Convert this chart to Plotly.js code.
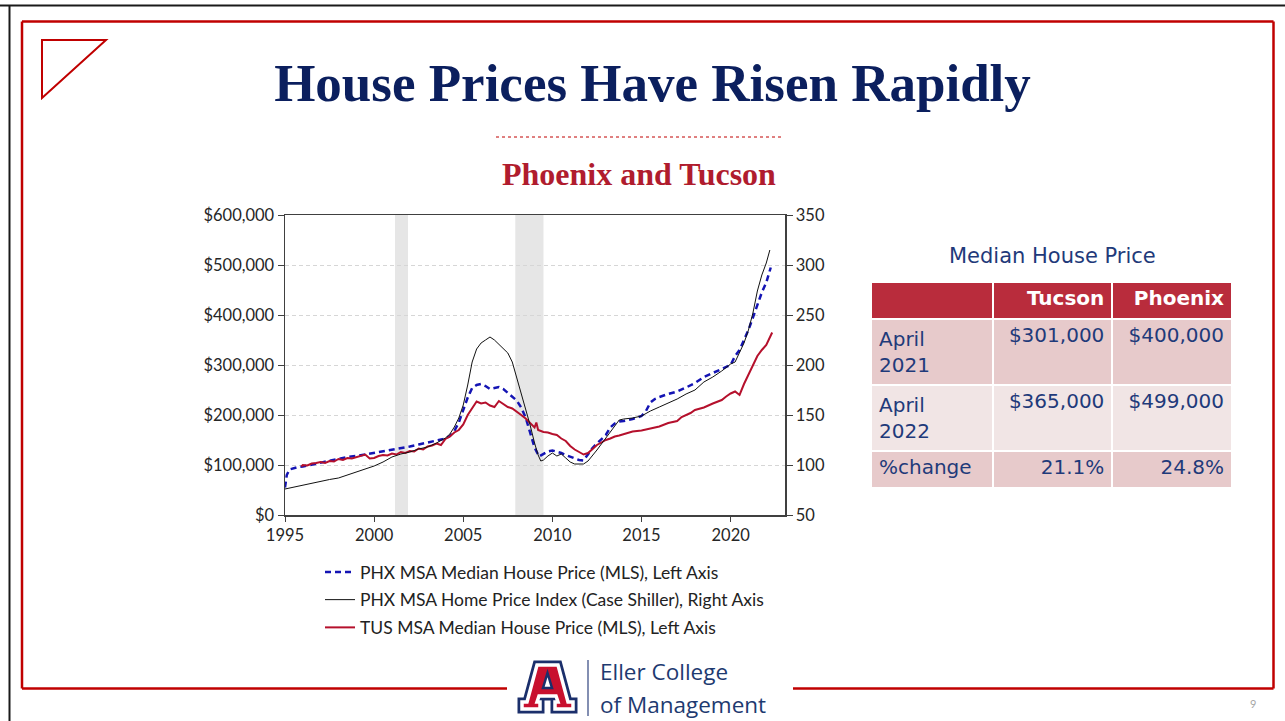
<!DOCTYPE html>
<html>
<head>
<meta charset="utf-8">
<script src="https://cdn.plot.ly/plotly-3.0.1.min.js"></script>
<style>
  html, body { margin: 0; padding: 0; background: #ffffff; }
  #chart { width: 1285px; height: 721px; }
</style>
</head>
<body>
<div id="chart"></div>
<script>
// ---------------- DATA ----------------
// PHX MSA Median House Price (MLS), left axis ($)
const phxMedianYears = [1995.0,1995.1,1995.25,1995.5,1995.75,1996.0,1996.5,1997.0,1997.5,1998.0,1998.5,1999.0,1999.5,2000.0,2000.5,2001.0,2001.5,2002.0,2002.5,2003.0,2003.5,2004.0,2004.25,2004.5,2004.75,2005.0,2005.25,2005.5,2005.75,2006.0,2006.25,2006.5,2006.75,2007.0,2007.25,2007.5,2007.75,2008.0,2008.25,2008.5,2008.75,2009.0,2009.25,2009.5,2009.75,2010.0,2010.25,2010.5,2010.75,2011.0,2011.25,2011.5,2011.75,2012.0,2012.25,2012.5,2012.75,2013.0,2013.25,2013.5,2013.75,2014.0,2014.5,2015.0,2015.25,2015.5,2015.75,2016.0,2016.5,2017.0,2017.5,2018.0,2018.5,2019.0,2019.5,2020.0,2020.25,2020.5,2020.75,2021.0,2021.25,2021.5,2021.75,2022.0,2022.25];
const phxMedianVals = [55000,80000,91000,94000,96000,97000,101000,105000,109000,113000,116000,118000,121000,124000,127000,130000,133000,137000,141000,145000,149000,153000,158000,168000,185000,210000,235000,254000,260000,262000,258000,252000,254000,256000,252000,244000,236000,229000,215000,195000,165000,135000,117000,122000,127000,129000,127000,124000,120000,117000,113000,110000,109000,122000,134000,143000,151000,160000,175000,183000,187000,188000,192000,198000,208000,225000,232000,236000,242000,247000,255000,264000,276000,284000,291000,300000,318000,330000,350000,370000,395000,420000,445000,465000,495000];

// PHX MSA Home Price Index (Case Shiller), right axis
const phxIndexYears = [1995.0,1995.5,1996.0,1996.5,1997.0,1997.5,1998.0,1998.5,1999.0,1999.5,2000.0,2000.5,2001.0,2001.5,2002.0,2002.5,2003.0,2003.5,2004.0,2004.25,2004.5,2004.75,2005.0,2005.25,2005.5,2005.75,2006.0,2006.25,2006.5,2006.75,2007.0,2007.25,2007.5,2007.75,2008.0,2008.25,2008.5,2008.75,2009.0,2009.2,2009.35,2009.5,2009.75,2010.0,2010.25,2010.5,2010.75,2011.0,2011.25,2011.5,2011.75,2012.0,2012.25,2012.5,2012.75,2013.0,2013.25,2013.5,2013.75,2014.0,2014.5,2015.0,2015.5,2016.0,2016.5,2017.0,2017.5,2018.0,2018.5,2019.0,2019.5,2020.0,2020.25,2020.5,2020.75,2021.0,2021.25,2021.5,2021.75,2022.0,2022.2];
const phxIndexVals = [76,78,80,82,84,85.5,87,90,93,96,99,103,108,111,113,116,118,122,127,131,138,147,160,180,203,216,222,225,228,225,221,217,212,203,187,171,157,140,122,110,104,105,109,112,109,111,107,103,101,101,101,104,109,115,121,127,134,140,145,146,147,149,154,158,162,166,171,175,183,188,194,201,203,212,222,235,252,274,290,302,315];

// TUS MSA Median House Price (MLS), left axis ($)
const tusYears = [1995.92,1996.0,1996.25,1996.5,1996.75,1997.0,1997.25,1997.5,1997.75,1998.0,1998.25,1998.5,1998.75,1999.0,1999.25,1999.5,1999.75,2000.0,2000.25,2000.5,2000.75,2001.0,2001.25,2001.5,2001.75,2002.0,2002.25,2002.5,2002.75,2003.0,2003.25,2003.5,2003.75,2004.0,2004.25,2004.5,2004.75,2005.0,2005.25,2005.5,2005.75,2006.0,2006.25,2006.5,2006.75,2007.0,2007.25,2007.5,2007.75,2008.0,2008.25,2008.5,2008.75,2009.0,2009.1,2009.2,2009.5,2009.75,2010.0,2010.25,2010.5,2010.75,2011.0,2011.25,2011.5,2011.75,2012.0,2012.25,2012.5,2012.75,2013.0,2013.25,2013.5,2013.75,2014.0,2014.5,2015.0,2015.5,2016.0,2016.5,2017.0,2017.25,2017.5,2017.75,2018.0,2018.5,2019.0,2019.5,2019.75,2020.0,2020.25,2020.5,2020.75,2021.0,2021.25,2021.5,2021.75,2022.0,2022.33];
const tusVals = [97000,100000,99000,103000,104000,106000,104000,108000,107000,112000,110000,114000,113000,116000,118000,121000,113000,114000,118000,120000,119000,123000,121000,126000,124000,128000,127000,133000,131000,137000,139000,143000,140000,152000,157000,165000,170000,181000,200000,214000,227000,223000,225000,219000,216000,228000,222000,216000,213000,207000,200000,193000,183000,175000,185000,170000,166000,165000,162000,160000,153000,148000,138000,131000,126000,121000,124000,133000,140000,145000,150000,153000,157000,159000,162000,167000,169000,173000,177000,184000,188000,196000,200000,204000,210000,215000,223000,230000,237000,243000,247000,240000,262000,280000,300000,318000,330000,340000,365000];

// Recession periods (years)
const recessionStarts = [2001.17, 2007.92];
const recessionEnds   = [2001.9, 2009.5];

// Axis ticks
const xTickVals = [1995, 2000, 2005, 2010, 2015, 2020];

// Table
const tableHeader = ['', 'Tucson', 'Phoenix'];
const rowLabels   = ['April<br>2021', 'April<br>2022', '%change'];
const tucsonVals  = ['$301,000', '$365,000', '21.1%'];
const phoenixVals = ['$400,000', '$499,000', '24.8%'];

// ---------------- LAYOUT HELPERS ----------------
const W = 1285, H = 721;
const fx = x => x / W;
const fy = y => 1 - y / H;
const pathOf = pts => 'M ' + pts.map(p => fx(p[0]).toFixed(5) + ' ' + fy(p[1]).toFixed(5)).join(' L ') + ' Z';

const RED = '#c00000';
const NAVY = '#1b2f6b';

const traces = [
  {
    x: phxMedianYears, y: phxMedianVals, type: 'scatter', mode: 'lines',
    name: 'PHX MSA Median House Price (MLS), Left Axis',
    line: { color: '#1414b4', width: 2.5, dash: '6px,4px' },
    yaxis: 'y', legendgroup: 'g1'
  },
  {
    x: phxIndexYears, y: phxIndexVals, type: 'scatter', mode: 'lines',
    name: 'PHX MSA Home Price Index (Case Shiller), Right Axis',
    line: { color: '#111111', width: 1 },
    yaxis: 'y2', legendgroup: 'g2'
  },
  {
    x: tusYears, y: tusVals, type: 'scatter', mode: 'lines',
    name: 'TUS MSA Median House Price (MLS), Left Axis',
    line: { color: '#b5102c', width: 2 },
    yaxis: 'y', legendgroup: 'g3'
  },
  {
    type: 'table',
    domain: { x: [fx(871), fx(1232)], y: [fy(510), fy(282)] },
    columnwidth: [121, 119, 119],
    header: {
      values: tableHeader,
      align: ['left', 'right', 'right'],
      height: 37,
      fill: { color: '#b92c3c' },
      line: { color: '#ffffff', width: 2 },
      font: { family: 'DejaVu Sans', size: 20, color: '#ffffff', weight: 'bold' }
    },
    cells: {
      values: [rowLabels, tucsonVals, phoenixVals],
      align: ['left', 'right', 'right'],
      height: 37,
      fill: { color: [['#e7cacb', '#f1e5e5', '#e7cacb'], ['#e7cacb', '#f1e5e5', '#e7cacb'], ['#e7cacb', '#f1e5e5', '#e7cacb']] },
      line: { color: '#ffffff', width: 2 },
      font: { family: 'DejaVu Sans', size: 20, color: '#1f3a7a' }
    }
  }
];

const shapes = [];
// slide frames
shapes.push({ type: 'line', xref: 'paper', yref: 'paper', x0: 0, x1: 1, y0: fy(5.5), y1: fy(5.5), line: { color: '#1a1a1a', width: 2 } });
shapes.push({ type: 'line', xref: 'paper', yref: 'paper', x0: fx(9.5), x1: fx(9.5), y0: fy(5), y1: 0, line: { color: '#1a1a1a', width: 2 } });
const redFrame = [
  [22, 21.5, 1273.5, 21.5], [22, 21.5, 22, 688.5], [1273.5, 21.5, 1273.5, 688.5],
  [22, 688.5, 507, 688.5], [793, 688.5, 1273.5, 688.5]
];
redFrame.forEach(s => shapes.push({ type: 'line', xref: 'paper', yref: 'paper', x0: fx(s[0]), y0: fy(s[1]), x1: fx(s[2]), y1: fy(s[3]), line: { color: RED, width: 2.5 } }));
// triangle ornament
shapes.push({ type: 'path', xref: 'paper', yref: 'paper', path: pathOf([[42, 40], [106, 40], [42, 98]]), line: { color: RED, width: 2 }, fillcolor: 'rgba(0,0,0,0)' });
// dotted rule under title
shapes.push({ type: 'line', xref: 'paper', yref: 'paper', x0: fx(496), x1: fx(782), y0: fy(137), y1: fy(137), line: { color: RED, width: 1, dash: 'dot' } });
// recession shading
recessionStarts.forEach((s, i) => shapes.push({ type: 'rect', xref: 'x', yref: 'y', x0: s, x1: recessionEnds[i], y0: 0, y1: 600000, fillcolor: '#e6e6e6', line: { width: 0 }, layer: 'below' }));
// logo "A"
const aPts = [[537, 665], [558, 665], [568, 702], [573, 702], [573, 709], [555, 709], [555, 702], [558, 702], [556, 696], [539, 696], [537, 702], [540, 702], [540, 709], [522, 709], [522, 702], [527, 702]];
shapes.push({ type: 'path', xref: 'paper', yref: 'paper', path: pathOf(aPts), fillcolor: NAVY, line: { color: NAVY, width: 9 } });
shapes.push({ type: 'path', xref: 'paper', yref: 'paper', path: pathOf(aPts), fillcolor: '#c8102e', line: { color: '#ffffff', width: 3.5 } });
shapes.push({ type: 'path', xref: 'paper', yref: 'paper', path: pathOf([[543, 688], [552, 688], [547.5, 673]]), fillcolor: '#ffffff', line: { color: NAVY, width: 2.5 } });
// divider next to logo
shapes.push({ type: 'line', xref: 'paper', yref: 'paper', x0: fx(588), x1: fx(588), y0: fy(660), y1: fy(716), line: { color: '#5a6a99', width: 1.5 } });

const annotations = [
  { text: '<b>Phoenix and Tucson</b>', xref: 'paper', yref: 'paper', x: fx(638.5), y: fy(174), xanchor: 'center', yanchor: 'middle', showarrow: false,
    font: { family: 'Liberation Serif', size: 32, color: '#b01c2e' } },
  { text: 'Median House Price', xref: 'paper', yref: 'paper', x: fx(1052), y: fy(256), xanchor: 'center', yanchor: 'middle', showarrow: false,
    font: { family: 'DejaVu Sans', size: 21, color: '#1f3a7a' } },
  { text: 'Eller College', xref: 'paper', yref: 'paper', x: fx(599), y: fy(688), xanchor: 'left', yanchor: 'bottom', showarrow: false, borderpad: 0,
    font: { family: 'Open Sans', size: 22.5, color: '#1e3a70' } },
  { text: 'of Management', xref: 'paper', yref: 'paper', x: fx(599), y: fy(688), xanchor: 'left', yanchor: 'top', showarrow: false, borderpad: 0,
    font: { family: 'Open Sans', size: 22.5, color: '#1e3a70' } },
  { text: '9', xref: 'paper', yref: 'paper', x: fx(1253), y: fy(703), xanchor: 'center', yanchor: 'middle', showarrow: false,
    font: { family: 'Lato', size: 11, color: '#a6a6a6' } }
];

const axisFont = { family: 'Lato', size: 16.5, color: '#262626' };

const layout = {
  width: W, height: H,
  margin: { l: 0, r: 0, t: 0, b: 0, pad: 0 },
  paper_bgcolor: '#ffffff', plot_bgcolor: '#ffffff',
  showlegend: true,
  title: {
    text: '<b>House Prices Have Risen Rapidly</b>',
    x: fx(652.5), y: fy(82), xanchor: 'center', yanchor: 'middle', xref: 'paper', yref: 'paper',
    font: { family: 'Liberation Serif', size: 53, color: '#0b1f5e' }
  },
  xaxis: {
    domain: [fx(285), fx(785)],
    range: [1995, 2023.05],
    tickvals: xTickVals,
    ticks: 'outside', ticklen: 5, tickcolor: '#404040',
    showline: true, linecolor: '#404040', linewidth: 1.5, mirror: true,
    showgrid: false, zeroline: false,
    tickfont: axisFont
  },
  yaxis: {
    domain: [fy(515), fy(215)],
    range: [0, 600000], dtick: 100000,
    tickprefix: '$', tickformat: ',d',
    ticks: 'outside', ticklen: 6, tickcolor: '#404040',
    showline: true, linecolor: '#404040', linewidth: 1.5,
    showgrid: true, gridcolor: '#d6d6d6', gridwidth: 1, griddash: '4px,3px',
    zeroline: false,
    tickfont: axisFont
  },
  yaxis2: {
    overlaying: 'y', side: 'right',
    range: [50, 350], dtick: 50,
    ticks: 'outside', ticklen: 6, tickcolor: '#404040',
    showline: true, linecolor: '#404040', linewidth: 1.5,
    showgrid: false, zeroline: false,
    tickfont: axisFont
  },
  legend: {
    x: fx(320), y: fy(554), xanchor: 'left', yanchor: 'top',
    orientation: 'v', tracegroupgap: 2,
    bgcolor: 'rgba(0,0,0,0)', borderwidth: 0,
    font: { family: 'Lato', size: 17.5, color: '#222222' }
  },
  shapes: shapes,
  annotations: annotations
};

Plotly.newPlot('chart', traces, layout, { staticPlot: true, displayModeBar: false });
</script>
</body>
</html>
